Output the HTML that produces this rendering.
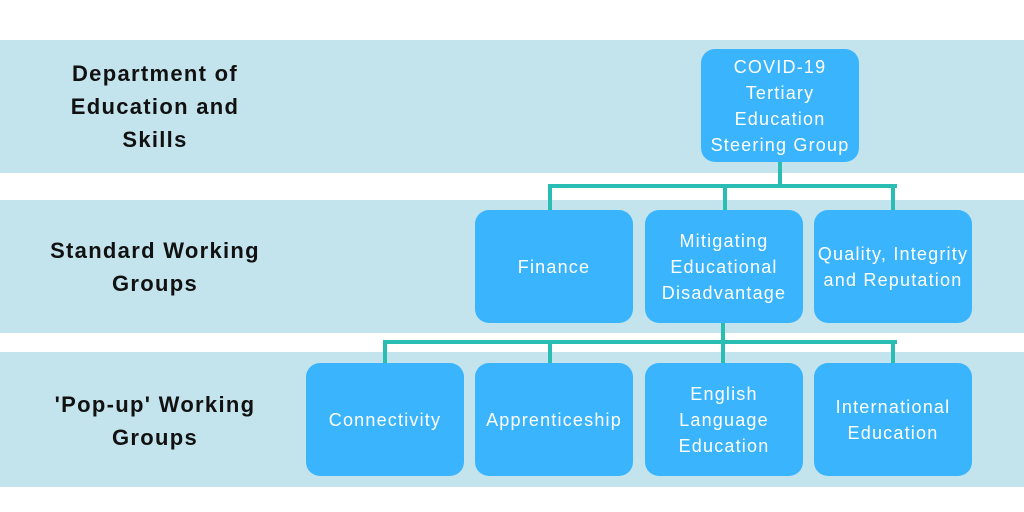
<!DOCTYPE html>
<html><head><style>
body{margin:0;width:1024px;height:512px;background:#fff;position:relative;overflow:hidden;font-family:"Liberation Sans",sans-serif}
.band{position:absolute;left:0;width:1024px;background:#c3e4ed}
.lbl{position:absolute;left:0;width:310px;text-align:center;font-size:22px;line-height:33px;color:#111;font-weight:bold;letter-spacing:1.3px}
.box{position:absolute;width:158px;height:113px;background:#3ab5fd;border-radius:14px;color:#fff;font-size:18px;line-height:26px;display:flex;align-items:center;justify-content:center;text-align:center;letter-spacing:1.2px;white-space:nowrap}
.ln{position:absolute;background:#29bdb3}
</style></head><body>
<div class="band" style="top:40px;height:133px"></div>
<div class="band" style="top:200px;height:133px"></div>
<div class="band" style="top:352px;height:135px"></div>
<div class="lbl" style="top:57px">Department of<br>Education and<br>Skills</div>
<div class="lbl" style="top:234px">Standard Working<br>Groups</div>
<div class="lbl" style="top:388px">'Pop-up' Working<br>Groups</div>
<div class="ln" style="left:778px;top:160px;width:4px;height:28px"></div>
<div class="ln" style="left:548px;top:184px;width:349px;height:4px"></div>
<div class="ln" style="left:548px;top:184px;width:4px;height:28px"></div>
<div class="ln" style="left:723px;top:184px;width:4px;height:28px"></div>
<div class="ln" style="left:891px;top:184px;width:4px;height:28px"></div>
<div class="ln" style="left:721px;top:320px;width:4px;height:46px"></div>
<div class="ln" style="left:383px;top:340px;width:514px;height:4px"></div>
<div class="ln" style="left:383px;top:340px;width:4px;height:26px"></div>
<div class="ln" style="left:548px;top:340px;width:4px;height:26px"></div>
<div class="ln" style="left:891px;top:340px;width:4px;height:26px"></div>
<div class="box" style="left:701px;top:49px">COVID-19<br>Tertiary<br>Education<br>Steering Group</div>
<div class="box" style="left:475px;top:210px">Finance</div>
<div class="box" style="left:645px;top:210px">Mitigating<br>Educational<br>Disadvantage</div>
<div class="box" style="left:814px;top:210px">Quality, Integrity<br>and Reputation</div>
<div class="box" style="left:306px;top:363px">Connectivity</div>
<div class="box" style="left:475px;top:363px">Apprenticeship</div>
<div class="box" style="left:645px;top:363px">English<br>Language<br>Education</div>
<div class="box" style="left:814px;top:363px">International<br>Education</div>
</body></html>
